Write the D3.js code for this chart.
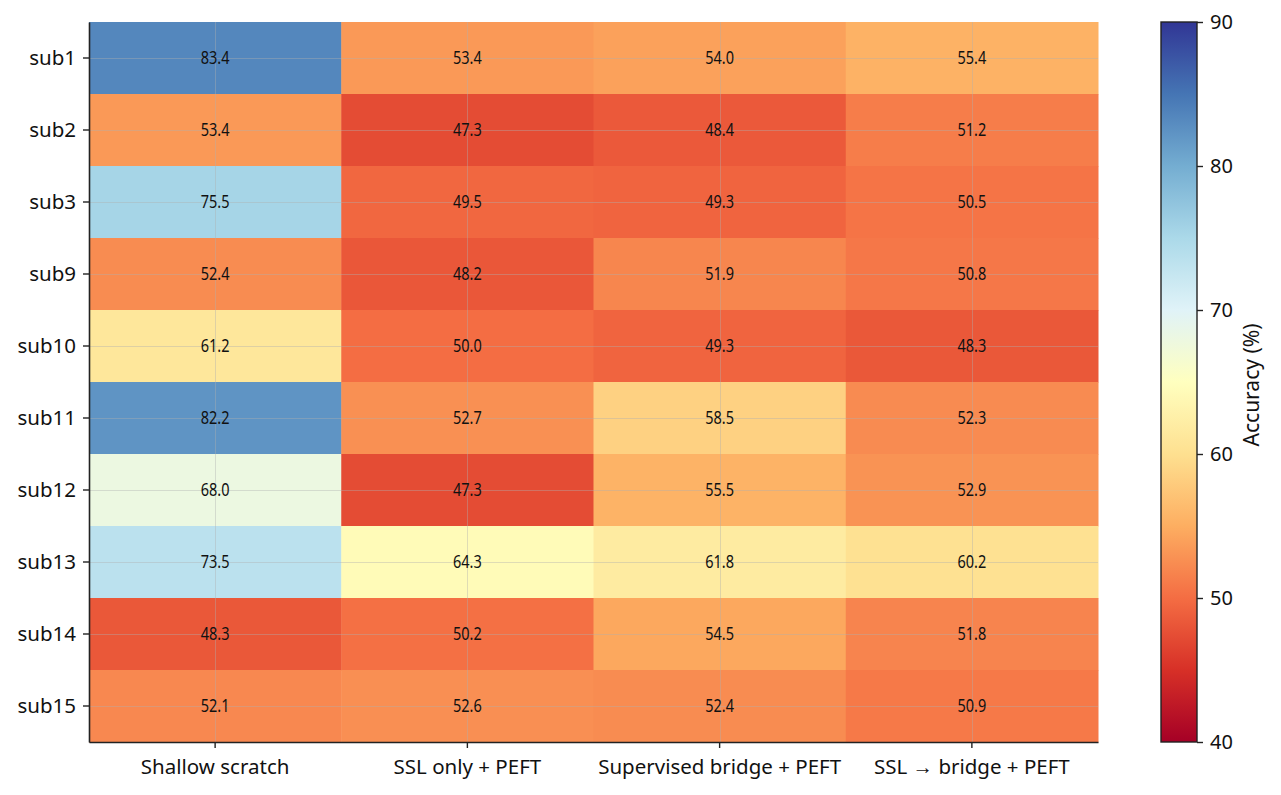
<!DOCTYPE html>
<html>
<head>
<meta charset="utf-8">
<script src="https://cdn.jsdelivr.net/npm/d3@7"></script>
<style>
  body { margin: 0; background: #fff; }
</style>
</head>
<body>
<div id="chart"></div>
<script>
// ── Data ────────────────────────────────────────────────────────────
const subjects = ['sub1', 'sub2', 'sub3', 'sub9', 'sub10', 'sub11', 'sub12', 'sub13', 'sub14', 'sub15'];
const methods  = ['Shallow scratch', 'SSL only + PEFT', 'Supervised bridge + PEFT', 'SSL \u2192 bridge + PEFT'];
const accuracy = [
  [83.4, 53.4, 54.0, 55.4],
  [53.4, 47.3, 48.4, 51.2],
  [75.5, 49.5, 49.3, 50.5],
  [52.4, 48.2, 51.9, 50.8],
  [61.2, 50.0, 49.3, 48.3],
  [82.2, 52.7, 58.5, 52.3],
  [68.0, 47.3, 55.5, 52.9],
  [73.5, 64.3, 61.8, 60.2],
  [48.3, 50.2, 54.5, 51.8],
  [52.1, 52.6, 52.4, 50.9]
];
const cbarTicks = [40, 50, 60, 70, 80, 90];

// matplotlib RdYlBu stops (linear interpolation)
const rdylbu = ['#a50026', '#d73027', '#f46d43', '#fdae61', '#fee090', '#ffffbf',
                '#e0f3f8', '#abd9e9', '#74add1', '#4575b4', '#313695'];

const FONT = '"Noto Sans", "Open Sans", sans-serif';

const W = 1281, H = 795;
const m = { left: 89, top: 22, right: 1098, bottom: 742 };

const svg = d3.select('#chart').append('svg')
  .attr('width', W).attr('height', H)
  .style('font-family', FONT);

const x = d3.scaleBand().domain(methods).range([m.left, m.right]);
const y = d3.scaleBand().domain(subjects).range([m.top, m.bottom]);

const vmin = 40, vmax = 90;
const color = d3.scaleLinear()
  .domain(rdylbu.map((_, i) => vmin + i * (vmax - vmin) / (rdylbu.length - 1)))
  .range(rdylbu)
  .clamp(true);

// ── Cells ───────────────────────────────────────────────────────────
const cells = [];
accuracy.forEach((row, i) => row.forEach((v, j) => cells.push({ s: subjects[i], m: methods[j], v })));

svg.append('g').selectAll('rect')
  .data(cells)
  .join('rect')
    .attr('x', d => x(d.m))
    .attr('y', d => y(d.s))
    .attr('width', x.bandwidth() + 0.5)
    .attr('height', y.bandwidth() + 0.5)
    .attr('fill', d => color(d.v));

// faint grid at tick centres
const grid = svg.append('g').attr('stroke', '#b0b0b0').attr('stroke-opacity', 0.4).attr('stroke-width', 1);
methods.forEach(c => {
  const cx = Math.round(x(c) + x.bandwidth() / 2) + 0.5;
  grid.append('line').attr('x1', cx).attr('x2', cx).attr('y1', m.top).attr('y2', m.bottom);
});
subjects.forEach(s => {
  const cy = Math.round(y(s) + y.bandwidth() / 2) + 0.5;
  grid.append('line').attr('x1', m.left).attr('x2', m.right).attr('y1', cy).attr('y2', cy);
});

// cell labels: narrow digits, so squeeze horizontally a bit
svg.append('g').selectAll('text')
  .data(cells)
  .join('text')
    .attr('transform', d => `translate(${x(d.m) + x.bandwidth() / 2},${y(d.s) + y.bandwidth() / 2}) scale(0.83,1)`)
    .attr('dy', '0.35em')
    .attr('text-anchor', 'middle')
    .attr('font-size', 17.5)
    .attr('fill', '#111')
    .text(d => d.v.toFixed(1));

// ── Axes ────────────────────────────────────────────────────────────
const xAxis = svg.append('g')
  .attr('transform', `translate(0,${m.bottom})`)
  .call(d3.axisBottom(x).tickSize(6).tickSizeOuter(0).tickPadding(11));
const yAxis = svg.append('g')
  .attr('transform', `translate(${m.left},0)`)
  .call(d3.axisLeft(y).tickSize(6).tickSizeOuter(0).tickPadding(7));

[xAxis, yAxis].forEach(g => {
  g.attr('font-family', FONT).attr('font-size', 20.5);
  g.select('.domain').attr('stroke', '#222').attr('stroke-width', 1.6);
  g.selectAll('.tick line').attr('stroke', '#222').attr('stroke-width', 1.4);
  g.selectAll('.tick text').attr('fill', '#111');
});

// ── Colorbar ────────────────────────────────────────────────────────
const cb = { x: 1161, w: 36, top: m.top, bottom: m.bottom };
const cy = d3.scaleLinear().domain([vmin, vmax]).range([cb.bottom, cb.top]);

const defs = svg.append('defs');
const grad = defs.append('linearGradient').attr('id', 'cbar-grad')
  .attr('x1', 0).attr('y1', 1).attr('x2', 0).attr('y2', 0);
rdylbu.forEach((c, i) => {
  grad.append('stop').attr('offset', `${i / (rdylbu.length - 1) * 100}%`).attr('stop-color', c);
});

svg.append('rect')
  .attr('x', cb.x).attr('y', cb.top)
  .attr('width', cb.w).attr('height', cb.bottom - cb.top)
  .attr('fill', 'url(#cbar-grad)')
  .attr('stroke', '#222').attr('stroke-width', 1.4);

const cAxis = svg.append('g')
  .attr('transform', `translate(${cb.x + cb.w},0)`)
  .call(d3.axisRight(cy).tickValues(cbarTicks).tickSize(6).tickPadding(7));
cAxis.attr('font-family', FONT).attr('font-size', 20);
cAxis.select('.domain').remove();
cAxis.selectAll('.tick line').attr('stroke', '#222').attr('stroke-width', 1.4);
cAxis.selectAll('.tick text').attr('fill', '#111');

svg.append('text')
  .attr('transform', `translate(1252,${(cb.top + cb.bottom) / 2 + 3}) rotate(-90)`)
  .attr('dy', '0.35em')
  .attr('text-anchor', 'middle')
  .attr('font-size', 21)
  .attr('fill', '#111')
  .text('Accuracy (%)');
</script>
</body>
</html>
